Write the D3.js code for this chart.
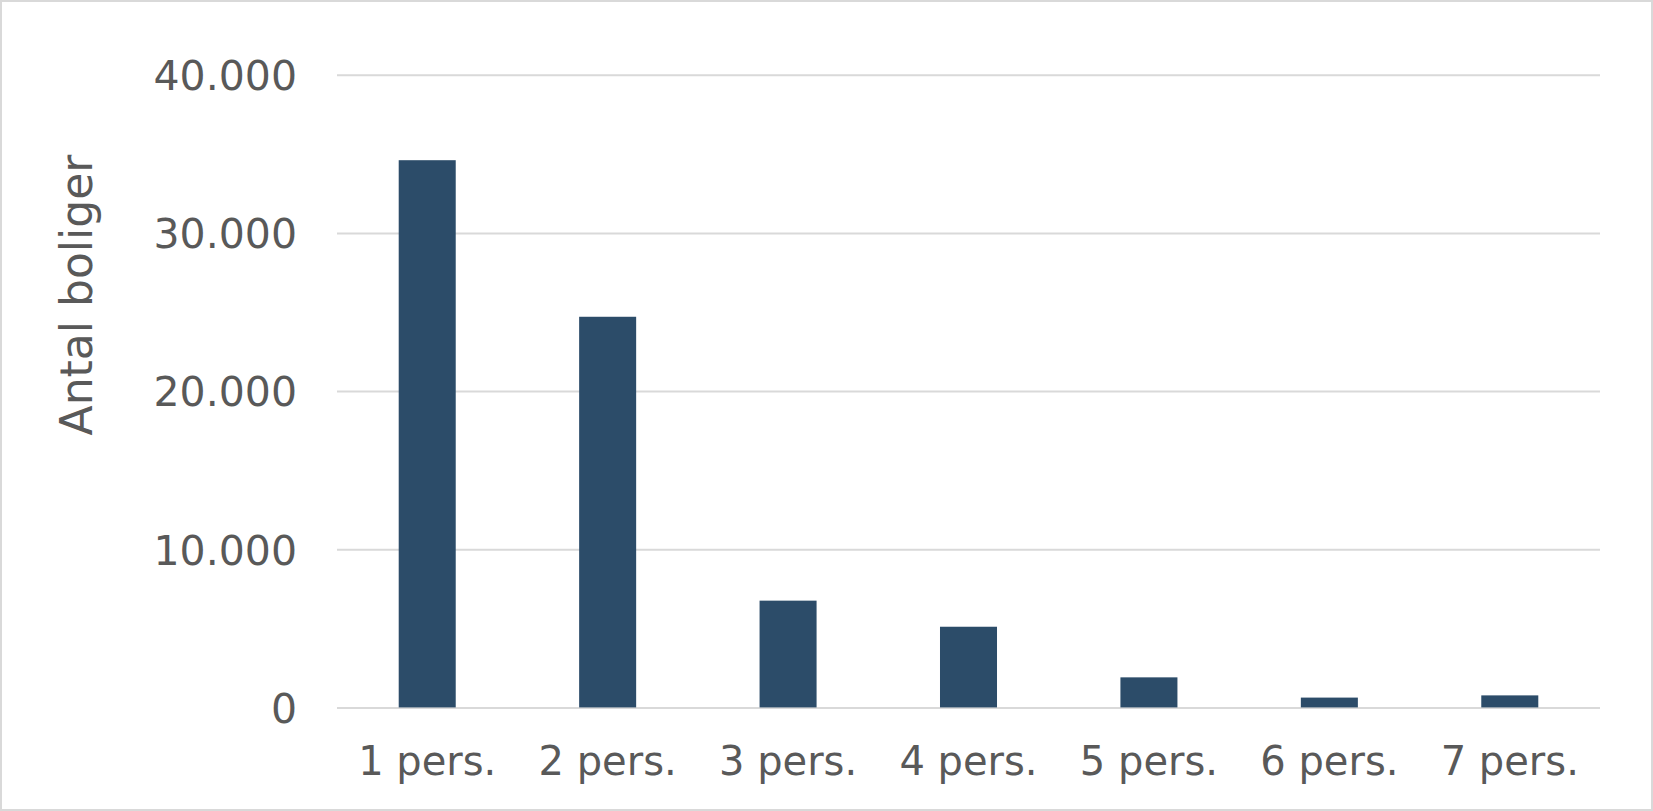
<!DOCTYPE html>
<html><head><meta charset="utf-8">
<script src="https://cdn.jsdelivr.net/npm/d3@7"></script>
<style>
html,body{margin:0;padding:0;background:#fff;}
svg{display:block;}
text{font-family:"DejaVu Sans",Verdana,sans-serif;fill:#595959;}
</style></head>
<body>
<svg id="chart" width="1653" height="811"></svg>
<script>
const categories = ["1 pers.","2 pers.","3 pers.","4 pers.","5 pers.","6 pers.","7 pers."];
const values = [34600, 24700, 6750, 5100, 1900, 620, 760];
const yTicks = [0, 10000, 20000, 30000, 40000];
const yTickLabels = ["0","10.000","20.000","30.000","40.000"];
const yTitle = "Antal boliger";

const W = 1653, H = 811;
const plot = {left: 337, right: 1600, top: 74.8, bottom: 707.4};
const svg = d3.select("#chart");

svg.append("rect").attr("x",1).attr("y",1).attr("width",W-2).attr("height",H-2)
  .attr("fill","#fff").attr("stroke","#d9d9d9").attr("stroke-width",2);

const x = d3.scaleBand().domain(categories).range([plot.left, plot.right]).paddingInner(0.684).paddingOuter(0.342);
const y = d3.scaleLinear().domain([0,40000]).range([plot.bottom, plot.top]);

// gridlines + y labels
const yAxis = d3.axisLeft(y).tickValues(yTicks).tickSize(-(plot.right-plot.left))
  .tickFormat((d,i)=>yTickLabels[i]).tickPadding(40);
const gy = svg.append("g").attr("transform",`translate(${plot.left},0)`).call(yAxis);
gy.select(".domain").remove();
gy.selectAll(".tick line").attr("stroke","#d9d9d9").attr("stroke-width",2);
gy.selectAll(".tick text").style("font-size","41px").attr("fill","#595959").attr("dy","0.36em");

// bars
svg.append("g").selectAll("rect").data(values).join("rect")
  .attr("x",(d,i)=>x(categories[i]))
  .attr("width",x.bandwidth())
  .attr("y",d=>y(d))
  .attr("height",d=>y(0)-y(d))
  .attr("fill","#2c4c69");

// x axis labels
const xAxis = d3.axisBottom(x).tickSize(0).tickPadding(39);
const gx = svg.append("g").attr("transform",`translate(0,${plot.bottom})`).call(xAxis);
gx.select(".domain").remove();
gx.selectAll(".tick text").style("font-size","40px").attr("fill","#595959");

// y title
svg.append("text").attr("transform",`translate(76,295) rotate(-90)`)
  .attr("text-anchor","middle").attr("dy","0.36em").style("font-size","44px").text(yTitle);
</script>
</body></html>
